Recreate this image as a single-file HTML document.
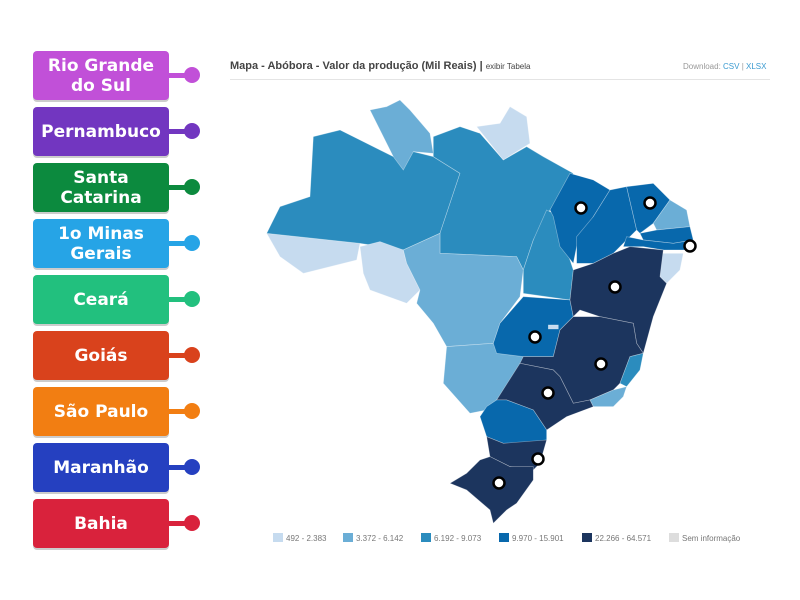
<!DOCTYPE html>
<html><head><meta charset="utf-8"><style>
body{margin:0;width:800px;height:600px;background:#fff;position:relative;overflow:hidden;font-family:"Liberation Sans",sans-serif}
.b{position:absolute;left:33px;width:136px;height:49px;border-radius:4px;color:#fff;font-weight:bold;font-size:17px;line-height:20px;display:flex;align-items:center;justify-content:center;text-align:center;box-shadow:0 2px 0 rgba(0,0,0,0.2);font-family:"DejaVu Sans","Liberation Sans",sans-serif}
.l{position:absolute;left:168px;width:20px;height:5px}
.d{position:absolute;left:184px;width:16px;height:16px;border-radius:50%}
</style></head><body>
<div style="position:absolute;left:230px;top:60px;font-size:11px;font-weight:bold;color:#444">Mapa - Abóbora - Valor da produção (Mil Reais) | <span style="font-weight:normal;font-size:8px">exibir Tabela</span></div>
<div style="position:absolute;left:683px;top:62px;font-size:8px;color:#999">Download: <span style="color:#3a9ad0">CSV</span> | <span style="color:#3a9ad0">XLSX</span></div>
<div style="position:absolute;left:230px;top:79px;width:540px;height:1px;background:#e4e4e4"></div>
<svg width="800" height="600" style="position:absolute;left:0;top:0">
<g transform="translate(260,90) scale(0.3333)" stroke="#ffffff" stroke-width="2" stroke-opacity="0.4">
<polygon fill="#c6dbef" points="20,430 300,460 290,510 130,550 60,500"/>
<polygon fill="#2b8cbe" points="30,410 60,350 150,320 160,140 240,120 300,150 400,200 460,185 520,200 600,250 540,430 430,480 300,460 20,430"/>
<polygon fill="#6baed6" points="330,60 380,50 420,30 450,60 510,130 520,190 460,185 430,240 400,200"/>
<polygon fill="#2b8cbe" points="520,140 600,110 660,130 730,210 800,170 850,200 940,250 870,360 820,450 790,540 770,500 540,490 540,430 600,250 520,200"/>
<polygon fill="#c6dbef" points="650,110 720,100 750,50 800,80 810,160 730,210"/>
<polygon fill="#c6dbef" points="300,470 360,455 430,480 440,520 480,600 440,640 330,600 310,550"/>
<polygon fill="#6baed6" points="430,480 540,430 540,490 770,500 790,540 780,620 720,700 700,760 560,770 520,700 470,640 480,600 440,520"/>
<polygon fill="#6baed6" points="560,770 700,760 790,800 780,850 720,930 680,960 630,970 550,880"/>
<polygon fill="#2b8cbe" points="860,360 900,380 920,480 940,540 930,630 790,610 790,540 820,450"/>
<polygon fill="#0868ac" points="790,620 930,630 940,680 900,720 880,800 790,800 710,790 700,760 720,700"/>
<polygon fill="#0868ac" points="870,360 930,250 1000,270 1050,300 1000,380 950,470 940,520 900,470 880,380"/>
<polygon fill="#0868ac" points="1050,300 1100,290 1130,420 1110,440 1060,490 1000,520 950,520 950,440 1000,380"/>
<polygon fill="#0868ac" points="1100,290 1180,280 1230,330 1180,400 1140,430 1130,420"/>
<polygon fill="#6baed6" points="1230,330 1280,360 1290,410 1190,420 1180,400"/>
<polygon fill="#0868ac" points="1140,430 1190,420 1290,410 1300,450 1240,460 1150,450"/>
<polygon fill="#0868ac" points="1100,440 1150,450 1240,460 1300,450 1300,480 1210,480 1150,470 1090,470"/>
<polygon fill="#c6dbef" points="1200,490 1270,490 1260,540 1220,580 1200,560"/>
<polygon fill="#1c355e" points="940,540 1000,520 1060,490 1110,470 1210,480 1200,560 1220,580 1180,680 1150,790 1130,760 1120,700 1020,680 960,660 940,680 930,630"/>
<polygon fill="#1c355e" points="940,680 1020,680 1120,700 1130,760 1150,790 1110,800 1080,880 1060,900 990,930 940,940 900,860 880,840 780,820 790,800 880,800 900,720"/>
<polygon fill="#2b8cbe" points="1110,800 1150,790 1140,840 1100,890 1080,880"/>
<polygon fill="#6baed6" points="990,930 1060,900 1100,890 1090,920 1060,950 1000,950"/>
<polygon fill="#1c355e" points="780,820 880,840 900,860 940,940 990,930 1000,950 920,980 860,1020 820,960 740,930 710,930"/>
<polygon fill="#0868ac" points="710,930 740,930 820,960 860,1020 860,1050 800,1060 730,1060 680,1040 660,980 680,950"/>
<polygon fill="#1c355e" points="680,1040 730,1060 860,1050 840,1120 820,1140 750,1130 690,1100"/>
<polygon fill="#1c355e" points="690,1100 750,1130 820,1130 820,1170 770,1240 740,1260 700,1300 690,1260 620,1200 570,1180 620,1150 660,1110"/>
<rect x="865" y="705" width="30" height="12" fill="#c6dbef"/>
</g>
<g fill="#fff" stroke="#000" stroke-width="2.5">
<circle cx="581" cy="208" r="5.5"/><circle cx="650" cy="203" r="5.5"/><circle cx="690" cy="246" r="5.5"/>
<circle cx="615" cy="287" r="5.5"/><circle cx="535" cy="337" r="5.5"/><circle cx="601" cy="364" r="5.5"/>
<circle cx="548" cy="393" r="5.5"/><circle cx="538" cy="459" r="5.5"/><circle cx="499" cy="483" r="5.5"/>
</g>
<g font-size="8" fill="#777" font-family="Liberation Sans, sans-serif">
<rect x="273" y="533" width="10" height="9" fill="#c6dbef"/><text x="286" y="541">492 - 2.383</text>
<rect x="343" y="533" width="10" height="9" fill="#6baed6"/><text x="356" y="541">3.372 - 6.142</text>
<rect x="421" y="533" width="10" height="9" fill="#2b8cbe"/><text x="434" y="541">6.192 - 9.073</text>
<rect x="499" y="533" width="10" height="9" fill="#0868ac"/><text x="512" y="541">9.970 - 15.901</text>
<rect x="582" y="533" width="10" height="9" fill="#1c355e"/><text x="595" y="541">22.266 - 64.571</text>
<rect x="669" y="533" width="10" height="9" fill="#ddd"/><text x="682" y="541">Sem informação</text>
</g>
</svg>
<div class="b" style="top:51px;background:#c150d8">Rio Grande<br>do Sul</div><div class="l" style="top:73px;background:#c150d8"></div><div class="d" style="top:67px;background:#c150d8"></div>
<div class="b" style="top:107px;background:#7236c0">Pernambuco</div><div class="l" style="top:129px;background:#7236c0"></div><div class="d" style="top:123px;background:#7236c0"></div>
<div class="b" style="top:163px;background:#0c8a3e">Santa<br>Catarina</div><div class="l" style="top:185px;background:#0c8a3e"></div><div class="d" style="top:179px;background:#0c8a3e"></div>
<div class="b" style="top:219px;background:#26a4e6">1o Minas<br>Gerais</div><div class="l" style="top:241px;background:#26a4e6"></div><div class="d" style="top:235px;background:#26a4e6"></div>
<div class="b" style="top:275px;background:#22c07e">Ceará</div><div class="l" style="top:297px;background:#22c07e"></div><div class="d" style="top:291px;background:#22c07e"></div>
<div class="b" style="top:331px;background:#d9421c">Goiás</div><div class="l" style="top:353px;background:#d9421c"></div><div class="d" style="top:347px;background:#d9421c"></div>
<div class="b" style="top:387px;background:#f27e12">São Paulo</div><div class="l" style="top:409px;background:#f27e12"></div><div class="d" style="top:403px;background:#f27e12"></div>
<div class="b" style="top:443px;background:#2540c0">Maranhão</div><div class="l" style="top:465px;background:#2540c0"></div><div class="d" style="top:459px;background:#2540c0"></div>
<div class="b" style="top:499px;background:#d9223c">Bahia</div><div class="l" style="top:521px;background:#d9223c"></div><div class="d" style="top:515px;background:#d9223c"></div>
</body></html>
